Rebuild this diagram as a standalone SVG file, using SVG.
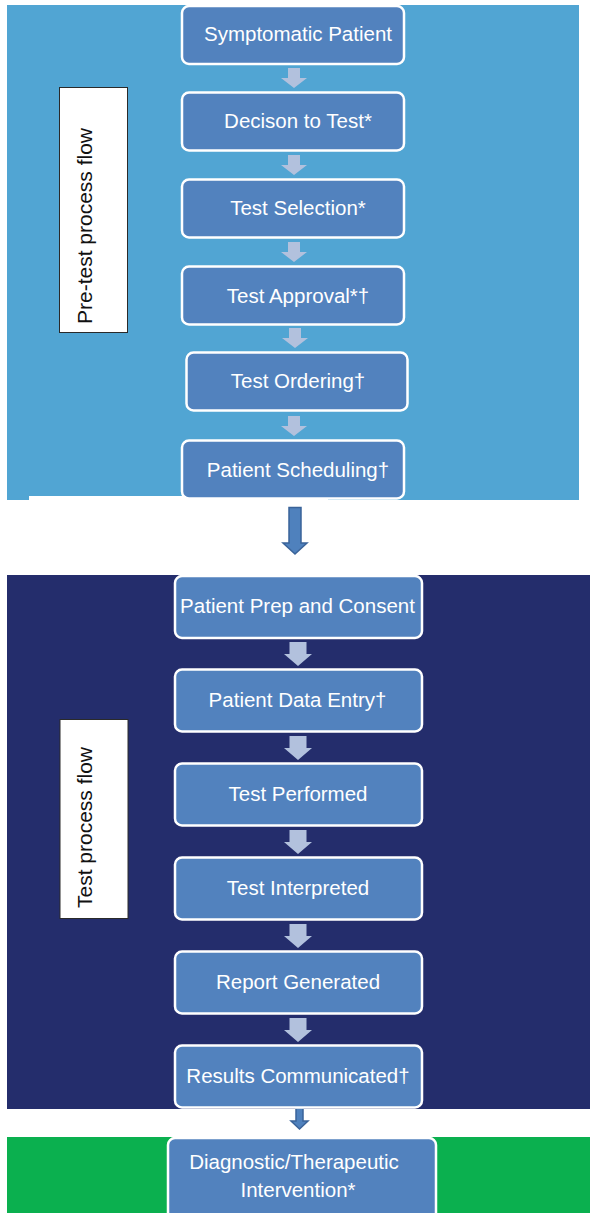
<svg xmlns="http://www.w3.org/2000/svg" width="590" height="1213" viewBox="0 0 590 1213">
  <style>
    .step rect { fill: #5282BE; stroke: #FFFFFF; stroke-width: 2.5; }
    .step text { fill: #FFFFFF; font-family: "Liberation Sans", Arial, sans-serif; font-size: 20.5px; text-anchor: middle; }
    .label rect { fill: #FFFFFF; stroke: #2A2A2A; stroke-width: 1; }
    .label text { fill: #111111; font-family: "Liberation Sans", Arial, sans-serif; font-size: 21px; text-anchor: middle; }
    .flow { fill: #B2C1DD; }
    .link { fill: #4F81BD; stroke: #3A6399; stroke-width: 1.5; }
  </style>
  <defs>
    <!-- small block arrow between steps, tip at origin -->
    <path id="stepArrow" d="M-6,-20 H6 V-10 H13 L0,0 L-13,-10 H-6 Z"/>
    <path id="stepArrowWide" d="M-8.5,-24 H8.5 V-12 H14 L0,0 L-14,-12 H-8.5 Z"/>
  </defs>

  <!-- phase backgrounds -->
  <rect x="7" y="5" width="572" height="495" fill="#51A5D3"/>
  <rect x="29" y="496" width="299" height="5" fill="#FFFFFF"/>
  <rect x="7" y="575" width="583" height="534" fill="#242D6C"/>
  <rect x="7" y="1137" width="583" height="76" fill="#0BB04F"/>

  <!-- side labels -->
  <g id="label-pretest" class="label">
    <rect x="59.5" y="87.5" width="68" height="245"/>
    <text transform="translate(92,226) rotate(-90)">Pre-test process flow</text>
  </g>
  <g id="label-test" class="label">
    <rect x="60" y="719.5" width="68" height="199"/>
    <text transform="translate(92,827.5) rotate(-90)">Test process flow</text>
  </g>

  <!-- connectors -->
  <g id="connectors">
    <use href="#stepArrow" class="flow" x="294" y="88"/>
    <use href="#stepArrow" class="flow" x="294" y="175"/>
    <use href="#stepArrow" class="flow" x="294" y="262"/>
    <use href="#stepArrow" class="flow" x="295" y="348"/>
    <use href="#stepArrow" class="flow" x="294" y="436"/>

    <path class="link" d="M289,507.5 H301 V543 H307 L295,554 L283,543 H289 Z"/>

    <use href="#stepArrowWide" class="flow" x="298" y="666"/>
    <use href="#stepArrowWide" class="flow" x="298" y="760"/>
    <use href="#stepArrowWide" class="flow" x="298" y="854"/>
    <use href="#stepArrowWide" class="flow" x="298" y="948"/>
    <use href="#stepArrowWide" class="flow" x="298" y="1042"/>

    <path class="link" d="M296,1108 H303 V1121 H308 L299.5,1129 L291,1121 H296 Z"/>
  </g>

  <!-- pre-test steps -->
  <g id="symptomatic-patient" class="step">
    <rect x="182" y="6" width="222" height="58" rx="7"/>
    <text x="298" y="41">Symptomatic Patient</text>
  </g>
  <g id="decision-to-test" class="step">
    <rect x="182" y="92.5" width="222" height="58" rx="7"/>
    <text x="298" y="128">Decison to Test*</text>
  </g>
  <g id="test-selection" class="step">
    <rect x="182" y="179.5" width="222" height="58" rx="7"/>
    <text x="298" y="215">Test Selection*</text>
  </g>
  <g id="test-approval" class="step">
    <rect x="182" y="266.5" width="222" height="58" rx="7"/>
    <text x="298" y="303">Test Approval*†</text>
  </g>
  <g id="test-ordering" class="step">
    <rect x="186.5" y="352.5" width="221" height="58" rx="7"/>
    <text x="298" y="388">Test Ordering†</text>
  </g>
  <g id="patient-scheduling" class="step">
    <rect x="182" y="440.5" width="222" height="58" rx="7"/>
    <text x="298" y="477">Patient Scheduling†</text>
  </g>

  <!-- test steps -->
  <g id="patient-prep" class="step">
    <rect x="175" y="576" width="247" height="62" rx="7"/>
    <text x="297.5" y="613">Patient Prep and Consent</text>
  </g>
  <g id="patient-data-entry" class="step">
    <rect x="175" y="669.5" width="247" height="62" rx="7"/>
    <text x="297.5" y="707">Patient Data Entry†</text>
  </g>
  <g id="test-performed" class="step">
    <rect x="175" y="763.5" width="247" height="62" rx="7"/>
    <text x="298" y="801">Test Performed</text>
  </g>
  <g id="test-interpreted" class="step">
    <rect x="175" y="857.5" width="247" height="62" rx="7"/>
    <text x="298" y="895">Test Interpreted</text>
  </g>
  <g id="report-generated" class="step">
    <rect x="175" y="951.5" width="247" height="62" rx="7"/>
    <text x="298" y="989">Report Generated</text>
  </g>
  <g id="results-communicated" class="step">
    <rect x="175" y="1045.5" width="247" height="62" rx="7"/>
    <text x="298" y="1083">Results Communicated†</text>
  </g>

  <!-- outcome -->
  <g id="intervention" class="step">
    <rect x="168" y="1138" width="268" height="84" rx="7"/>
    <text x="294" y="1169">Diagnostic/Therapeutic</text>
    <text x="298" y="1197">Intervention*</text>
  </g>
</svg>
